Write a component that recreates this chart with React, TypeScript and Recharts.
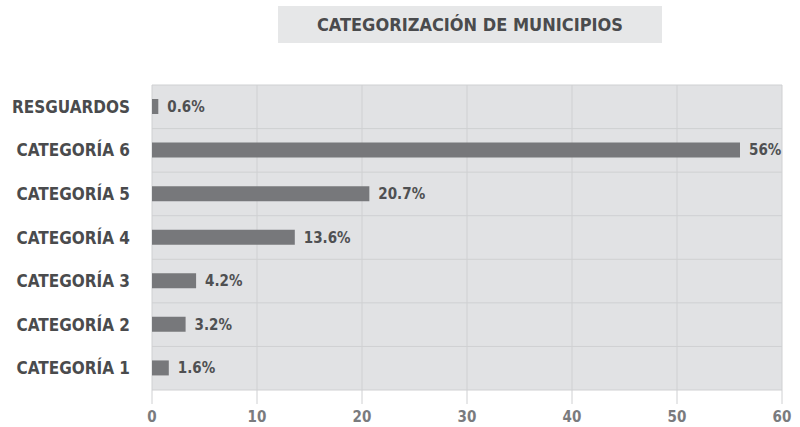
import { Bar, BarChart, CartesianGrid, LabelList, XAxis, YAxis } from "recharts";

const categories = [
  "RESGUARDOS",
  "CATEGORÍA 6",
  "CATEGORÍA 5",
  "CATEGORÍA 4",
  "CATEGORÍA 3",
  "CATEGORÍA 2",
  "CATEGORÍA 1",
];
const shares = [0.6, 56, 20.7, 13.6, 4.2, 3.2, 1.6];
const xTicks = [0, 10, 20, 30, 40, 50, 60];

const data = categories.map((name, i) => ({ name, value: shares[i] }));

const FONT = '"Liberation Sans Narrow", "DejaVu Sans Condensed", sans-serif';
const GRID = "#cfd0d2";

// row boundaries instead of band centres
const rowLines = ({ offset }: any) => {
  const step = offset.height / categories.length;
  return categories.map((_, i) => offset.top + i * step).concat(offset.top + offset.height);
};

export default function App() {
  return (
    <div style={{ position: "absolute", left: 0, top: 0, width: 800, height: 427, background: "#fff", fontFamily: FONT }}>
      <div
        style={{
          position: "absolute",
          left: 278,
          top: 6,
          width: 384,
          height: 37,
          background: "#e6e7e8",
          color: "#4a4b4d",
          fontWeight: 700,
          fontSize: 18,
          lineHeight: "37px",
          textAlign: "center",
        }}
      >
        CATEGORIZACIÓN DE MUNICIPIOS
      </div>
      <BarChart
        width={800}
        height={427}
        data={data}
        layout="vertical"
        margin={{ top: 85, right: 18, left: 0, bottom: 7 }}
        style={{ position: "absolute", left: 0, top: 0 }}
      >
        <CartesianGrid fill="#e1e2e4" stroke={GRID} horizontalCoordinatesGenerator={rowLines} />
        <XAxis
          type="number"
          domain={[0, 60]}
          ticks={xTicks}
          height={30}
          axisLine={false}
          tickLine={{ stroke: GRID }}
          tickSize={14}
          tickMargin={7}
          tick={{ fill: "#7a7b7e", fontSize: 15, fontWeight: 700, fontFamily: FONT }}
        />
        <YAxis
          type="category"
          dataKey="name"
          width={152}
          axisLine={false}
          tickLine={false}
          tickSize={0}
          tickMargin={22}
          tick={{ fill: "#4a4b4d", fontSize: 17, fontWeight: 700, fontFamily: FONT }}
        />
        <Bar dataKey="value" fill="#77787b" barSize={15} isAnimationActive={false}>
          <LabelList
            dataKey="value"
            position="right"
            offset={9}
            formatter={(v: any) => `${v}%`}
            style={{ fill: "#4f5052", fontSize: 15, fontWeight: 700, fontFamily: FONT }}
          />
        </Bar>
      </BarChart>
    </div>
  );
}
